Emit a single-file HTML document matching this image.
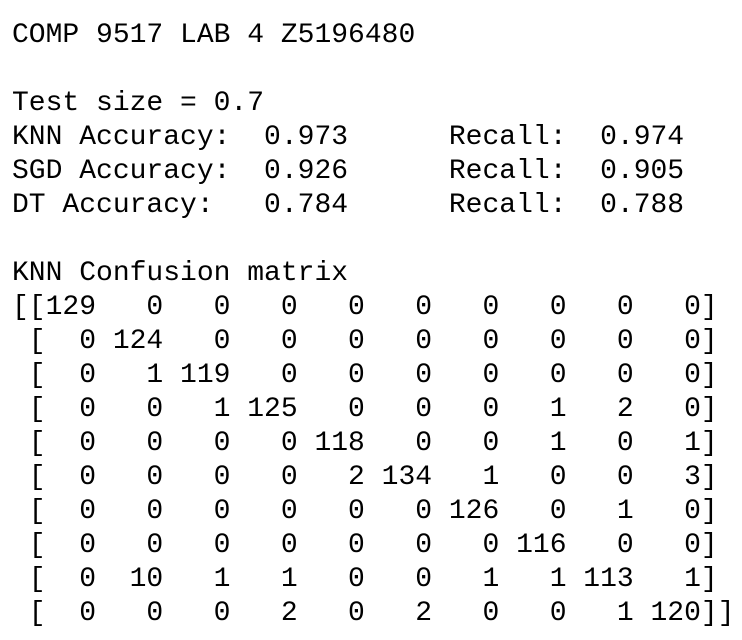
<!DOCTYPE html>
<html>
<head>
<meta charset="utf-8">
<style>
  html, body { margin: 0; padding: 0; background: #ffffff; }
  body { width: 742px; height: 640px; overflow: hidden; }
  pre {
    margin: 0;
    position: absolute;
    left: 12px;
    top: 19px;
    font-family: "Liberation Mono", "DejaVu Sans Mono", monospace;
    font-size: 28px;
    line-height: 34px;
    color: #000;
  }
</style>
</head>
<body>
<pre><span>COMP 9517 LAB 4 Z5196480</span>

<span>Test size = 0.7</span>
<span>KNN Accuracy:  0.973      Recall:  0.974</span>
<span>SGD Accuracy:  0.926      Recall:  0.905</span>
<span>DT Accuracy:   0.784      Recall:  0.788</span>

<span>KNN Confusion matrix</span>
<span>[[129   0   0   0   0   0   0   0   0   0]
 [  0 124   0   0   0   0   0   0   0   0]
 [  0   1 119   0   0   0   0   0   0   0]
 [  0   0   1 125   0   0   0   1   2   0]
 [  0   0   0   0 118   0   0   1   0   1]
 [  0   0   0   0   2 134   1   0   0   3]
 [  0   0   0   0   0   0 126   0   1   0]
 [  0   0   0   0   0   0   0 116   0   0]
 [  0  10   1   1   0   0   1   1 113   1]
 [  0   0   0   2   0   2   0   0   1 120]]</span></pre>
</body>
</html>
